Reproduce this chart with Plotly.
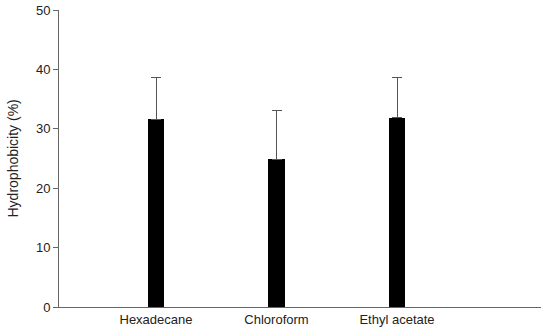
import plotly.graph_objects as go

categories = ["Hexadecane", "Chloroform", "Ethyl acetate"]
values = [31.6, 24.9, 31.9]
errors_plus = [7.1, 8.2, 6.8]
y_ticks = [0, 10, 20, 30, 40, 50]

positions = list(range(len(categories)))

fig = go.Figure()
fig.add_trace(go.Bar(
    x=positions, y=values, width=0.133,
    marker=dict(color="black", line=dict(width=0)),
    error_y=dict(type="data", symmetric=False, array=errors_plus,
                 arrayminus=[0] * len(values),
                 color="#555555", thickness=1, width=5),
    showlegend=False,
))

fig.update_layout(
    width=550, height=331,
    margin=dict(l=59, r=9, t=10, b=24, autoexpand=False),
    paper_bgcolor="white", plot_bgcolor="white",
    font=dict(family="Liberation Sans, Arial, sans-serif", size=13, color="#222222"),
    xaxis=dict(
        range=[-0.805, 3.195], tickvals=positions, ticktext=categories,
        showline=True, linecolor="#666666", linewidth=1,
        showgrid=False, zeroline=False, ticks="", tickfont=dict(size=13),
        automargin=False,
    ),
    yaxis=dict(
        range=[0, 50], tickvals=y_ticks,
        showline=True, linecolor="#666666", linewidth=1,
        showgrid=False, zeroline=False, ticks="outside", ticklen=5,
        tickcolor="#666666", tickfont=dict(size=13), automargin=False,
    ),
    annotations=[dict(
        text="Hydrophobicity (%)", textangle=-90, showarrow=False,
        xref="paper", yref="paper", x=0, y=0.5, xanchor="center", yanchor="middle",
        xshift=-47, font=dict(size=14, color="#222222"),
    )],
    bargap=0,
)

# remove the browser's default 8px body margin so the figure sits at the page corner
fig.write_html("out.html",
               config={"displayModeBar": False},
               post_script="document.body.style.margin='0';document.body.style.overflow='hidden';")
